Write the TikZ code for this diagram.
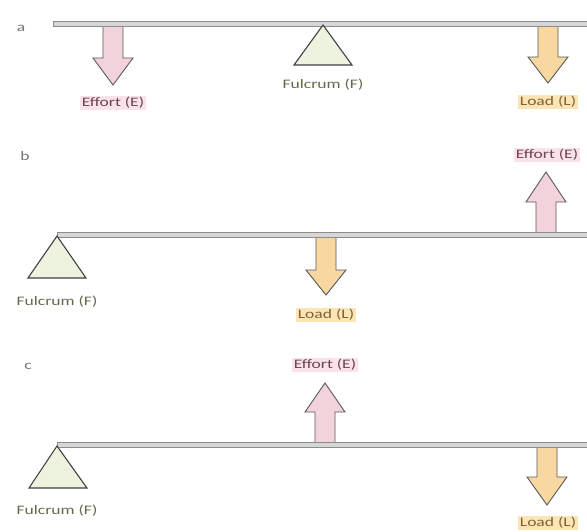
\documentclass[tikz,border=0pt]{standalone}
\usepackage{fontspec}
\setmainfont{Carlito}[FakeStretch=1.35]
\definecolor{effbg}{HTML}{F9E2E9}
\definecolor{efffill}{HTML}{F2D3DC}
\definecolor{efftext}{HTML}{6E4650}
\definecolor{loadbg}{HTML}{FCE5B5}
\definecolor{loadfill}{HTML}{F8D8A0}
\definecolor{loadtext}{HTML}{80632E}
\definecolor{fulfill}{HTML}{EEF3E0}
\definecolor{fultext}{HTML}{5F6B4A}
\definecolor{beamfill}{HTML}{D6D6D6}
\definecolor{beamline}{HTML}{8C8C8C}
\tikzset{
  beam/.style={fill=beamfill,draw=beamline,line width=0.9pt},
  fulcrumtri/.style={fill=fulfill,draw=black!75,line width=1.1pt,line join=miter},
  effarrow/.style={fill=efffill,draw=black!65,line width=0.9pt,line join=miter},
  loadarrow/.style={fill=loadfill,draw=black!65,line width=0.9pt,line join=miter},
  lblfont/.style={font=\fontsize{13}{15}\selectfont},
  efflabel/.style={lblfont,fill=effbg,text=efftext,inner sep=1.5pt},
  loadlabel/.style={lblfont,fill=loadbg,text=loadtext,inner sep=1.5pt},
  fullabel/.style={lblfont,text=fultext,inner sep=1pt},
  panellabel/.style={lblfont,text=black!55}
}
% #1 x, #2 shaft start y, #3 head base y, #4 tip y, #5 style
\newcommand{\blockarrow}[5]{%
  \draw[#5] (#1-10,#2) -- (#1-10,#3) -- (#1-20,#3) -- (#1,#4) -- (#1+20,#3) -- (#1+10,#3) -- (#1+10,#2) -- cycle;}
\begin{document}
\begin{tikzpicture}[x=1pt,y=-1pt]
\useasboundingbox (0,0) rectangle (587,531);
% panel a
\node[panellabel] (la) at (21,28) {a};
\blockarrow{113}{26}{58}{85}{effarrow}
\blockarrow{548}{26}{57}{83}{loadarrow}
\draw[beam] (53,21.5) rectangle (590,26.5);
\coordinate (fa) at (323,25);
\draw[fulcrumtri] (fa) -- (294,65) -- (352,65) -- cycle;
\node[efflabel] (ea) at (113,103) {Effort (E)};
\node[fullabel] (fla) at (323,85) {Fulcrum (F)};
\node[loadlabel] (lda) at (548,102) {Load (L)};
% panel b
\node[panellabel] (lb) at (25,156) {b};
\blockarrow{546}{233}{202}{172}{effarrow}
\blockarrow{326}{237}{270}{295}{loadarrow}
\draw[beam] (57,232.5) rectangle (590,237.5);
\coordinate (fb) at (57,236);
\draw[fulcrumtri] (fb) -- (28,278) -- (86,278) -- cycle;
\node[efflabel] (eb) at (547,155) {Effort (E)};
\node[fullabel] (flb) at (57,302) {Fulcrum (F)};
\node[loadlabel] (ldb) at (326,315) {Load (L)};
% panel c
\node[panellabel] (lc) at (28,366) {c};
\blockarrow{325}{443}{412}{383}{effarrow}
\blockarrow{547}{447}{477}{505}{loadarrow}
\draw[beam] (57,442.5) rectangle (590,447.5);
\coordinate (fc) at (57,446);
\draw[fulcrumtri] (fc) -- (29,488) -- (87,488) -- cycle;
\node[efflabel] (ec) at (325,365) {Effort (E)};
\node[fullabel] (flc) at (57,511) {Fulcrum (F)};
\node[loadlabel] (ldc) at (548,523) {Load (L)};
\end{tikzpicture}
\end{document}
